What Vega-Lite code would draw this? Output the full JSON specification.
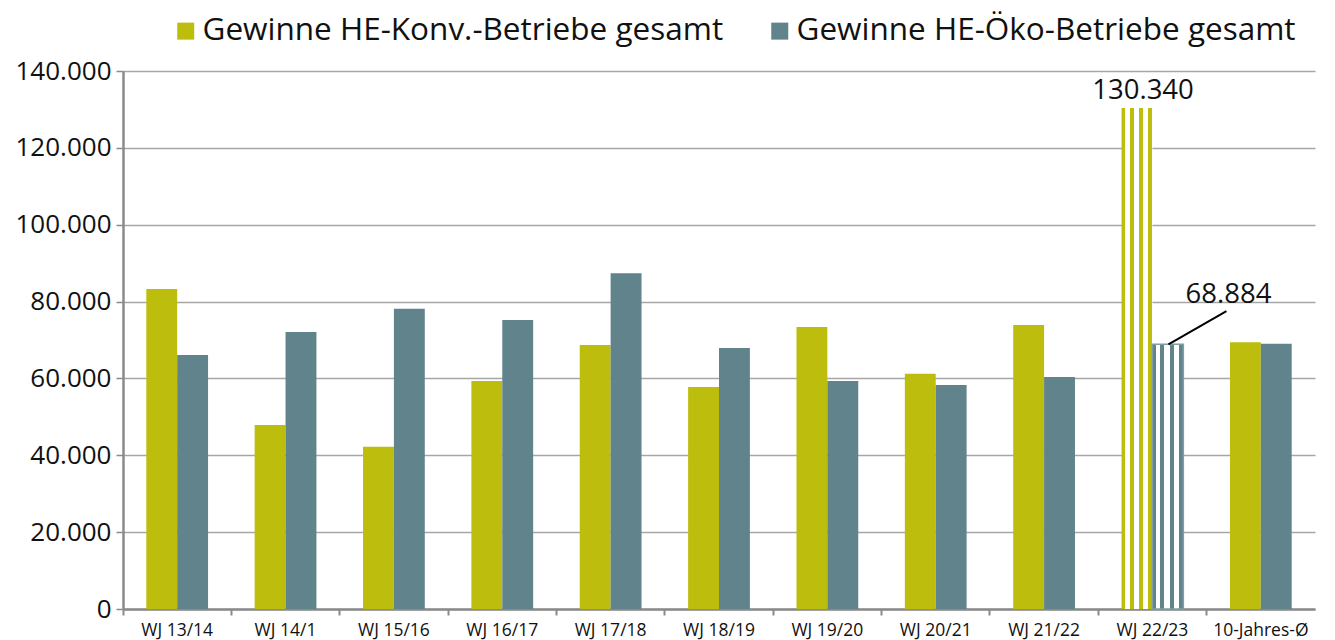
{
  "$schema": "https://vega.github.io/schema/vega-lite/v6.json",
  "width": 1192,
  "height": 538,
  "autosize": "none",
  "padding": {"left": 123, "top": 71, "right": 20, "bottom": 31},
  "background": "white",
  "config": {
    "view": {"stroke": null},
    "font": "Open Sans",
    "axis": {"labelFont": "Open Sans", "titleFont": "Open Sans"},
    "legend": {"labelFont": "Open Sans"}
  },
  "datasets": {
    "bars": [
      {"cat": "WJ 13/14", "series": "Gewinne HE-Konv.-Betriebe gesamt", "value": 83300, "hatched": false},
      {"cat": "WJ 13/14", "series": "Gewinne HE-Öko-Betriebe gesamt", "value": 66100, "hatched": false},
      {"cat": "WJ 14/1", "series": "Gewinne HE-Konv.-Betriebe gesamt", "value": 47900, "hatched": false},
      {"cat": "WJ 14/1", "series": "Gewinne HE-Öko-Betriebe gesamt", "value": 72100, "hatched": false},
      {"cat": "WJ 15/16", "series": "Gewinne HE-Konv.-Betriebe gesamt", "value": 42200, "hatched": false},
      {"cat": "WJ 15/16", "series": "Gewinne HE-Öko-Betriebe gesamt", "value": 78100, "hatched": false},
      {"cat": "WJ 16/17", "series": "Gewinne HE-Konv.-Betriebe gesamt", "value": 59300, "hatched": false},
      {"cat": "WJ 16/17", "series": "Gewinne HE-Öko-Betriebe gesamt", "value": 75200, "hatched": false},
      {"cat": "WJ 17/18", "series": "Gewinne HE-Konv.-Betriebe gesamt", "value": 68700, "hatched": false},
      {"cat": "WJ 17/18", "series": "Gewinne HE-Öko-Betriebe gesamt", "value": 87400, "hatched": false},
      {"cat": "WJ 18/19", "series": "Gewinne HE-Konv.-Betriebe gesamt", "value": 57800, "hatched": false},
      {"cat": "WJ 18/19", "series": "Gewinne HE-Öko-Betriebe gesamt", "value": 67900, "hatched": false},
      {"cat": "WJ 19/20", "series": "Gewinne HE-Konv.-Betriebe gesamt", "value": 73400, "hatched": false},
      {"cat": "WJ 19/20", "series": "Gewinne HE-Öko-Betriebe gesamt", "value": 59300, "hatched": false},
      {"cat": "WJ 20/21", "series": "Gewinne HE-Konv.-Betriebe gesamt", "value": 61200, "hatched": false},
      {"cat": "WJ 20/21", "series": "Gewinne HE-Öko-Betriebe gesamt", "value": 58300, "hatched": false},
      {"cat": "WJ 21/22", "series": "Gewinne HE-Konv.-Betriebe gesamt", "value": 73900, "hatched": false},
      {"cat": "WJ 21/22", "series": "Gewinne HE-Öko-Betriebe gesamt", "value": 60400, "hatched": false},
      {"cat": "WJ 22/23", "series": "Gewinne HE-Konv.-Betriebe gesamt", "value": 130340, "hatched": true},
      {"cat": "WJ 22/23", "series": "Gewinne HE-Öko-Betriebe gesamt", "value": 68884, "hatched": true},
      {"cat": "10-Jahres-Ø", "series": "Gewinne HE-Konv.-Betriebe gesamt", "value": 69400, "hatched": false},
      {"cat": "10-Jahres-Ø", "series": "Gewinne HE-Öko-Betriebe gesamt", "value": 69000, "hatched": false}
    ],
    "labels": [
      {"cat": "WJ 22/23", "series": "Gewinne HE-Konv.-Betriebe gesamt", "value": 130340, "label": "130.340"}
    ],
    "leader": [
      {"cat": "WJ 22/23", "cat2": "WJ 22/23", "value": 68884, "value2": 77500, "label": "68.884"}
    ]
  },
  "encoding": {
    "x": {
      "field": "cat",
      "type": "nominal",
      "sort": null,
      "scale": {
        "domain": ["WJ 13/14", "WJ 14/1", "WJ 15/16", "WJ 16/17", "WJ 17/18", "WJ 18/19", "WJ 19/20", "WJ 20/21", "WJ 21/22", "WJ 22/23", "10-Jahres-Ø"],
        "paddingInner": 0.43,
        "paddingOuter": 0.215
      },
      "axis": {
        "title": null,
        "labelAngle": 0,
        "labelAlign": "center",
        "labelFontSize": 17.5,
        "labelColor": "#111111",
        "labelPadding": 6,
        "bandPosition": -0.377,
        "labelOffset": 0,
        "domainColor": "#8a8a8a",
        "domainWidth": 2.5,
        "tickColor": "#8a8a8a",
        "tickWidth": 2,
        "tickSize": 6,
        "grid": false
      }
    },
    "y": {
      "field": "value",
      "type": "quantitative",
      "scale": {"domain": [0, 140000], "nice": false},
      "axis": {
        "title": null,
        "values": [0, 20000, 40000, 60000, 80000, 100000, 120000, 140000],
        "labelExpr": "replace(format(datum.value, ','), regexp(',', 'g'), '.')",
        "labelFontSize": 26,
        "labelColor": "#111111",
        "labelPadding": 5,
        "domainColor": "#8a8a8a",
        "domainWidth": 2.5,
        "tickColor": "#8a8a8a",
        "tickWidth": 1.5,
        "tickSize": 7,
        "grid": true,
        "gridColor": "#a6a6a6",
        "gridWidth": 1.5
      }
    }
  },
  "layer": [
    {
      "data": {"name": "bars"},
      "transform": [{"filter": "!datum.hatched"}],
      "mark": {"type": "bar"},
      "encoding": {
        "xOffset": {"field": "series", "type": "nominal", "scale": {"domain": ["Gewinne HE-Konv.-Betriebe gesamt", "Gewinne HE-Öko-Betriebe gesamt"], "paddingInner": 0, "paddingOuter": 0}},
        "color": {
          "field": "series",
          "type": "nominal",
          "scale": {"domain": ["Gewinne HE-Konv.-Betriebe gesamt", "Gewinne HE-Öko-Betriebe gesamt"], "range": ["#bdbd0d", "#61838b"]},
          "legend": {
            "title": null,
            "orient": "none",
            "legendX": 47,
            "legendY": -56,
            "padding": 0,
            "direction": "horizontal",
            "symbolType": "square",
            "symbolSize": 289,
            "symbolStrokeWidth": 0,
            "labelFontSize": 31.5,
            "labelColor": "#111111",
            "labelLimit": 900,
            "labelOffset": 1,
            "columnPadding": 40
          }
        }
      }
    },
    {
      "data": {"name": "bars"},
      "transform": [{"filter": "datum.hatched && datum.series == 'Gewinne HE-Konv.-Betriebe gesamt'"}],
      "mark": {
        "type": "bar",
        "fill": {
          "gradient": "linear", "x1": 0, "y1": 0, "x2": 1, "y2": 0,
          "stops": [
            {"offset": 0, "color": "#bdbd0d"}, {"offset": 0.12, "color": "#bdbd0d"},
            {"offset": 0.12, "color": "#ffffff"}, {"offset": 0.28, "color": "#ffffff"},
            {"offset": 0.28, "color": "#bdbd0d"}, {"offset": 0.4, "color": "#bdbd0d"},
            {"offset": 0.4, "color": "#ffffff"}, {"offset": 0.56, "color": "#ffffff"},
            {"offset": 0.56, "color": "#bdbd0d"}, {"offset": 0.68, "color": "#bdbd0d"},
            {"offset": 0.68, "color": "#ffffff"}, {"offset": 0.86, "color": "#ffffff"},
            {"offset": 0.86, "color": "#bdbd0d"}, {"offset": 0.98, "color": "#bdbd0d"},
            {"offset": 0.98, "color": "#ffffff"}, {"offset": 1, "color": "#ffffff"}
          ]
        }
      },
      "encoding": {
        "xOffset": {"field": "series", "type": "nominal"}
      }
    },
    {
      "data": {"name": "bars"},
      "transform": [{"filter": "datum.hatched && datum.series == 'Gewinne HE-Öko-Betriebe gesamt'"}],
      "mark": {
        "type": "bar",
        "stroke": "#7d9ea6",
        "strokeWidth": 1.5,
        "fill": {
          "gradient": "linear", "x1": 0, "y1": 0, "x2": 1, "y2": 0,
          "stops": [
            {"offset": 0, "color": "#61838b"}, {"offset": 0.1, "color": "#61838b"},
            {"offset": 0.1, "color": "#ffffff"}, {"offset": 0.26, "color": "#ffffff"},
            {"offset": 0.26, "color": "#61838b"}, {"offset": 0.39, "color": "#61838b"},
            {"offset": 0.39, "color": "#ffffff"}, {"offset": 0.56, "color": "#ffffff"},
            {"offset": 0.56, "color": "#61838b"}, {"offset": 0.7, "color": "#61838b"},
            {"offset": 0.7, "color": "#ffffff"}, {"offset": 0.86, "color": "#ffffff"},
            {"offset": 0.86, "color": "#61838b"}, {"offset": 1, "color": "#61838b"}
          ]
        }
      },
      "encoding": {
        "xOffset": {"field": "series", "type": "nominal"}
      }
    },
    {
      "data": {"name": "labels"},
      "mark": {"type": "text", "fontSize": 27.5, "color": "#111111", "baseline": "alphabetic", "dy": -9, "dx": 6},
      "encoding": {
        "xOffset": {"field": "series", "type": "nominal"},
        "text": {"field": "label"}
      }
    },
    {
      "data": {"name": "leader"},
      "mark": {"type": "rule", "color": "#000000", "strokeWidth": 2, "xOffset": 16, "x2Offset": 74},
      "encoding": {
        "x2": {"field": "cat2"},
        "y2": {"field": "value2"}
      }
    },
    {
      "data": {"name": "leader"},
      "mark": {"type": "text", "fontSize": 27.5, "color": "#111111", "baseline": "alphabetic", "dx": 76, "dy": -41},
      "encoding": {
        "text": {"field": "label"}
      }
    }
  ]
}
